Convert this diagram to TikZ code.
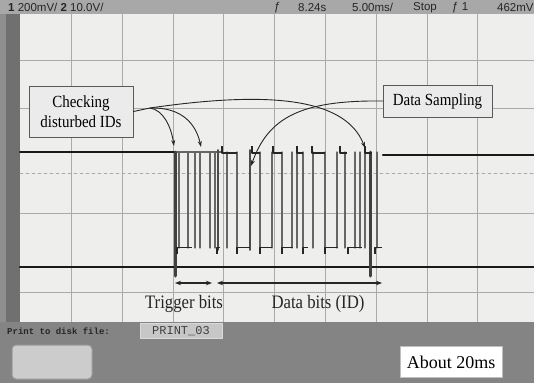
\documentclass[tikz,border=0pt]{standalone}
\usepackage{fontspec}
\setmainfont{Liberation Serif}
\newfontfamily\headfont{Liberation Sans}
\newfontfamily\keyfont{Liberation Mono}
\newfontfamily\notefont[FakeStretch=0.88]{Liberation Serif}
\usetikzlibrary{arrows.meta, positioning, calc}
\definecolor{oscFrame}{RGB}{143,143,143}
\definecolor{oscHead}{RGB}{168,168,168}
\definecolor{oscStrip}{RGB}{112,112,112}
\definecolor{oscScreen}{RGB}{238,238,236}
\definecolor{oscGrid}{RGB}{170,170,170}
\definecolor{oscPanel}{RGB}{132,132,132}
\tikzset{
    osc/.style={>=Stealth, line cap=round, line join=round},
    gridline/.style={draw=oscGrid, line width=0.7pt},
    trace/.style={draw=black!90, line width=2.4pt},
    edge/.style={draw=black!60, line width=1.2pt},
    burstedge/.style={draw=black!75, line width=3pt},
    tick/.style={draw=black!85, line width=1.7pt, line cap=butt},
    callout/.style={draw=black!65, line width=0.8pt, fill=white!92!black,
                    align=center, inner sep=2pt, font=\notefont\fontsize{17}{20}\selectfont},
    pointer/.style={draw=black!85, line width=0.9pt, -{Stealth[length=6pt,width=4pt]}},
    dimarrow/.style={draw=black!85, line width=1.3pt,
                     {Stealth[length=6pt,width=4.5pt]}-{Stealth[length=6pt,width=4.5pt]}},
    bitlabel/.style={font=\notefont\fontsize{19}{20}\selectfont, text=black!85, inner sep=1pt},
    headtxt/.style={font=\headfont\fontsize{11.5}{12}\selectfont, text=black!85,
                    anchor=west, inner sep=0pt},
    monolabel/.style={font=\keyfont\bfseries\fontsize{9}{10}\selectfont, text=black!85,
                      inner sep=1pt},
    filebox/.style={draw=white!85!black, fill=white!78!black, line width=0.8pt,
                    font=\keyfont\fontsize{12}{13}\selectfont, text=black!75,
                    minimum width=82pt, minimum height=15pt, inner sep=1pt},
    softkey/.style={draw=white!60!black, fill=white!80!black, line width=1pt,
                    rounded corners=4pt, minimum width=80pt, minimum height=34pt},
    aboutbox/.style={draw=white!75!black, fill=white, line width=0.6pt,
                     font=\fontsize{18}{20}\selectfont, minimum width=102pt,
                     minimum height=31pt, inner sep=1pt},
}

\begin{document}
\begin{tikzpicture}[osc, x=1pt, y=-1pt]
\useasboundingbox (0,0) rectangle (534,383);

% ─── Cadre et écran ─────────────────────────────────────────────────────
\fill[oscFrame] (0,0) rectangle (534,383);
\fill[oscStrip] (6,12) rectangle (20,323);
\fill[oscScreen] (20,14) rectangle (534,322);
\fill[oscHead] (0,0) rectangle (534,14);

\node[headtxt] (headch) at (8,7.5) {\textbf{1} 200mV/\ \textbf{2} 10.0V/};
\node[headtxt] (headtrig) at (274,7.5) {ƒ};
\node[headtxt] (headpos) at (298,7.5) {8.24s};
\node[headtxt] (headbase) at (352,7.5) {5.00ms/};
\node[headtxt] (headrun) at (413,7.5) {Stop};
\node[headtxt] (headsrc) at (452,7.5) {ƒ 1};
\node[headtxt] (headlvl) at (497,7.5) {462mV};

% grille
\foreach \gx in {71,122,173,223,274,325,376,427,477}
  \draw[gridline] (\gx,14) -- (\gx,322);
\foreach \gy in {60,108,213,292}
  \draw[gridline] (20,\gy) -- (534,\gy);
\draw[gridline, dash pattern=on 3pt off 3pt] (20,173) -- (534,173);

% ─── Traces ─────────────────────────────────────────────────────────────
\draw[trace] (20,152) -- (175,152);
\draw[trace] (383,155) -- (534,155);
\draw[trace] (20,267) -- (534,267);

% salve de bits
\draw[edge] (175,152) -- (222,152);
\foreach \ex in {179,188,195,200,210,215,227,237,260,272,282,292,297,303,
                 313,325,337,345,355,360,365,377}
  \draw[edge] (\ex,152) -- (\ex,248);
\foreach \ex in {218,250}
  \draw[edge, line width=1.8pt, draw=black!70] (\ex,150) -- (\ex,250);
\draw[burstedge] (175,152) -- (175,276);
\draw[burstedge] (370,152) -- (370,276);
\foreach \xa/\xb in {222/237, 252/260, 273/282, 297/303, 312/325, 340/347, 365/372}
  \draw[tick] (\xa,146) -- (\xa,153) -- (\xb,153);
\foreach \xa/\xb in {177/192, 217/220, 237/250, 260/272, 282/293, 303/308,
                     325/338, 348/362, 375/382}
  \draw[tick] (\xa,254) -- (\xa,247.5) -- (\xb,247.5);

% ─── Annotations ────────────────────────────────────────────────────────
\node[callout, minimum width=104pt, minimum height=51pt] (checkbox) at (81,111.5)
    {Checking\\disturbed IDs};
\node[callout, minimum width=109pt, minimum height=32pt] (sampbox) at (437.5,101)
    {Data Sampling};

\coordinate (chkjoin) at (150,108);
\coordinate (hitA) at (174,146);
\coordinate (hitB) at (201,147);
\coordinate (hitC) at (365,148);
\coordinate (hitD) at (251,166);

\draw[pointer] (checkbox.east) -- (chkjoin) .. controls (163,110) and (171,126) .. (hitA);
\draw[pointer] (chkjoin) .. controls (182,107) and (196,124) .. (hitB);
\draw[pointer] (chkjoin) .. controls (260,92) and (345,95) .. (hitC);
\draw[pointer] (sampbox.west) .. controls (300,100) and (268,118) .. (hitD);

% flèches de durée
\coordinate (trigL) at (175,283);
\coordinate (trigR) at (212,283);
\coordinate (dataL) at (217,283);
\coordinate (dataR) at (382,283);
\draw[dimarrow] (trigL) -- (trigR);
\draw[dimarrow] (dataL) -- (dataR);
\node[bitlabel] (trigtxt) at (184,304) {Trigger bits};
\node[bitlabel] (datatxt) at (318,304) {Data bits (ID)};

% ─── Panneau du bas ─────────────────────────────────────────────────────
\fill[oscPanel] (0,322) rectangle (534,383);
\node[monolabel, anchor=west] (printlbl) at (6,331) {Print to disk file:};
\node[filebox] (printfile) at (181,331) {PRINT\_03};
\node[softkey] (blankkey) at (52,362) {};
\node[aboutbox] (aboutbox) at (451,362) {About 20ms};

\end{tikzpicture}
\end{document}
